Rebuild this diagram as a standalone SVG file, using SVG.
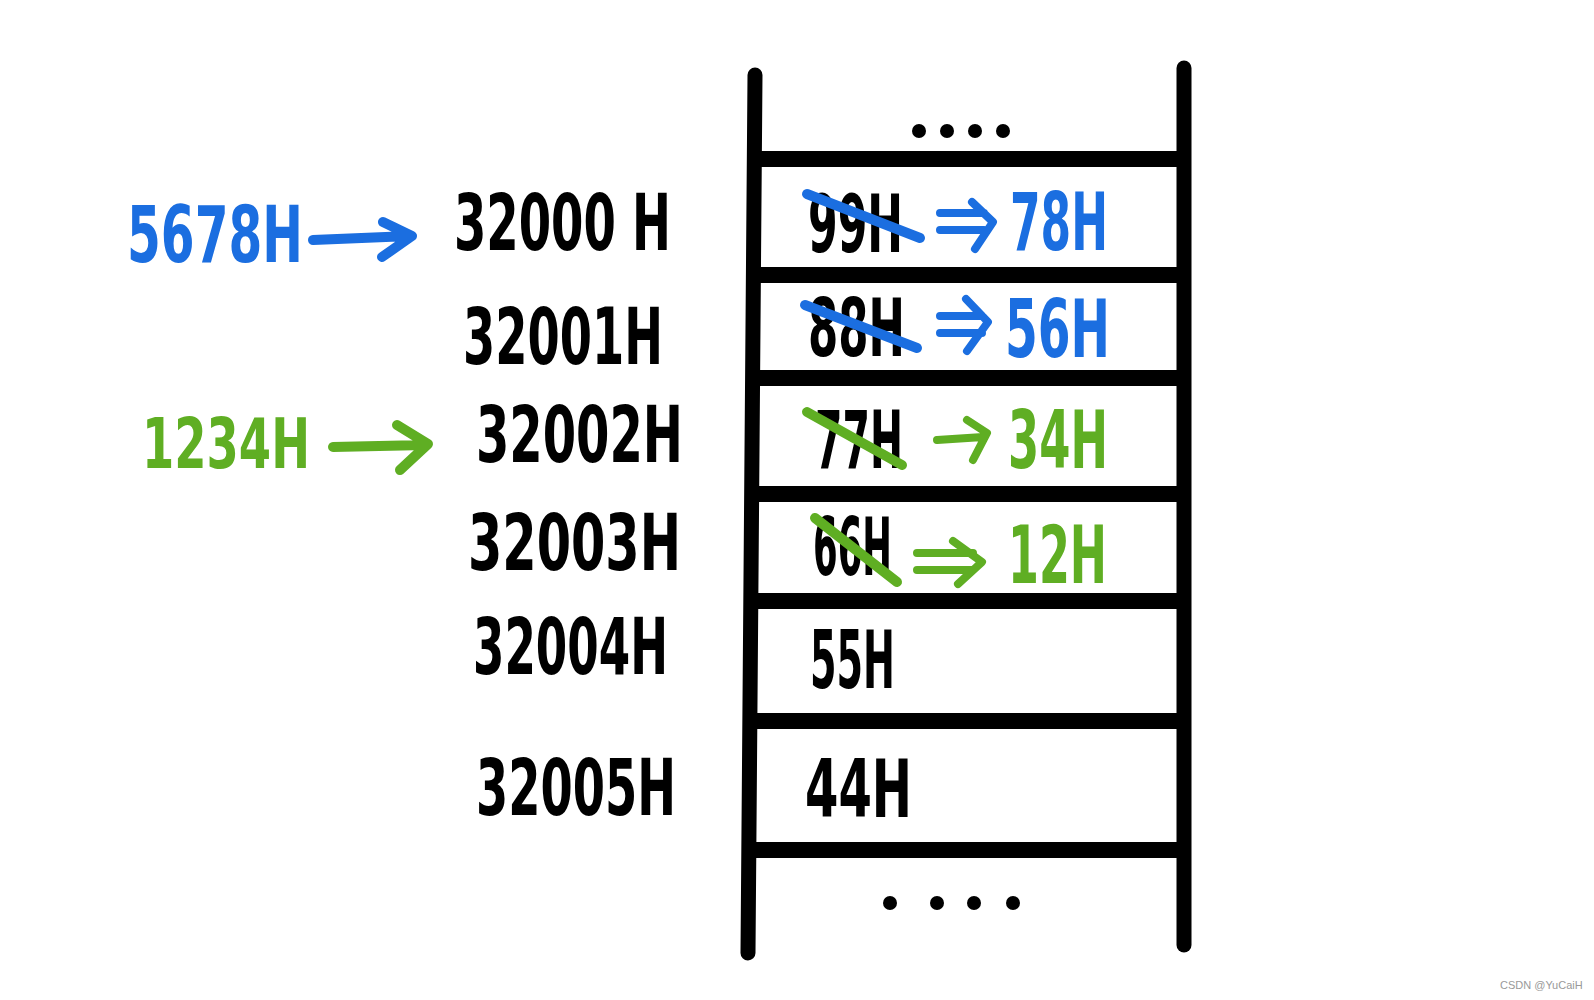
<svg xmlns="http://www.w3.org/2000/svg" width="1594" height="1000" viewBox="0 0 1594 1000">
<style>
.t{font-family:"DejaVu Sans","Liberation Sans",sans-serif;font-weight:bold;}
.cell{font-size:80px;}
.addr{font-size:78px;}
.k{fill:#000;}
.b{fill:#1b6ee0;}
.g{fill:#5fae23;}
.frame{stroke:#000;stroke-width:15;stroke-linecap:round;fill:none;}
.rung{stroke:#000;stroke-width:16;fill:none;}
.sb{stroke:#1b6ee0;stroke-width:10;stroke-linecap:round;stroke-linejoin:round;fill:none;}
.sg{stroke:#5fae23;stroke-width:10;stroke-linecap:round;stroke-linejoin:round;fill:none;}
.ab{stroke:#1b6ee0;stroke-width:8;stroke-linecap:round;stroke-linejoin:round;fill:none;}
.ag{stroke:#5fae23;stroke-width:8;stroke-linecap:round;stroke-linejoin:round;fill:none;}
.wm{font-family:"Liberation Sans",sans-serif;font-size:11px;fill:#999;}
</style>
<rect width="1594" height="1000" fill="#fff"/>
<g id="memory-frame">
<path class="frame" d="M755 75 L748 953"/>
<path class="frame" d="M1184 68 L1184 945"/>
<path class="rung" d="M752 159 H1184 M752 275 H1184 M751 378 H1184 M751 494 H1188 M750 601 H1184 M750 721 H1190 M749 850 H1184"/>
</g>
<g id="dots-top"><circle cx="919" cy="131" r="7"/><circle cx="947" cy="131" r="7"/><circle cx="975" cy="131" r="7"/><circle cx="1003" cy="131" r="7"/></g>
<g id="dots-bottom"><circle cx="890" cy="903" r="7"/><circle cx="937" cy="903" r="7"/><circle cx="974" cy="903" r="7"/><circle cx="1013" cy="903" r="7"/></g>
<g id="cell-32000H">
<text class="t cell k" x="808" y="252" textLength="95" lengthAdjust="spacingAndGlyphs">99H</text>
<path class="sb" d="M807 194 L920 238"/>
<text class="t cell b" x="1010" y="250" textLength="98" lengthAdjust="spacingAndGlyphs">78H</text>
</g>
<g id="cell-32001H">
<text class="t cell k" x="808" y="356" textLength="97" lengthAdjust="spacingAndGlyphs">88H</text>
<path class="sb" d="M805 305 L917 348"/>
<text class="t cell b" x="1005" y="357" textLength="105" lengthAdjust="spacingAndGlyphs">56H</text>
</g>
<g id="cell-32002H">
<text class="t cell k" x="815" y="468" textLength="88" lengthAdjust="spacingAndGlyphs">77H</text>
<path class="sg" d="M807 412 L902 465"/>
<text class="t cell g" x="1008" y="468" textLength="100" lengthAdjust="spacingAndGlyphs">34H</text>
</g>
<g id="cell-32003H">
<text class="t cell k" x="813" y="575" textLength="79" lengthAdjust="spacingAndGlyphs">66H</text>
<path class="sg" d="M815 518 L897 582"/>
<text class="t cell g" x="1008" y="583" textLength="99" lengthAdjust="spacingAndGlyphs">12H</text>
</g>
<g id="cell-32004H">
<text class="t cell k" x="810" y="688" textLength="85" lengthAdjust="spacingAndGlyphs">55H</text>
</g>
<g id="cell-32005H">
<text class="t cell k" x="805" y="817" textLength="107" lengthAdjust="spacingAndGlyphs">44H</text>
</g>
<g id="addresses">
<text class="t addr k" x="454" y="250" textLength="217" lengthAdjust="spacingAndGlyphs">32000 H</text>
<text class="t addr k" x="463" y="364" textLength="200" lengthAdjust="spacingAndGlyphs">32001H</text>
<text class="t addr k" x="476" y="462" textLength="207" lengthAdjust="spacingAndGlyphs">32002H</text>
<text class="t addr k" x="468" y="570" textLength="213" lengthAdjust="spacingAndGlyphs">32003H</text>
<text class="t addr k" x="473" y="674" textLength="195" lengthAdjust="spacingAndGlyphs">32004H</text>
<text class="t addr k" x="476" y="815" textLength="200" lengthAdjust="spacingAndGlyphs">32005H</text>
</g>
<g id="value-5678H">
<text class="t addr b" x="127" y="262" textLength="176" lengthAdjust="spacingAndGlyphs">5678H</text>
</g>
<g id="value-1234H">
<text class="t g" style="font-size:70px" x="142" y="468" textLength="168" lengthAdjust="spacingAndGlyphs">1234H</text>
</g>
<g id="connectors">
<path class="sb" d="M313 240 L410 236 M383 222 L412 236 L382 257"/>
<path class="sg" d="M333 447 L425 445 M397 425 L428 444 L400 470"/>
<path class="ab" d="M940 213 L984 213 M940 230 L984 230 M972 202 L993 222 L975 249"/>
<path class="ab" d="M940 316 L982 316 M940 333 L982 333 M966 299 L988 322 L967 351"/>
<path class="ag" d="M937 440 L983 437 M967 420 L987 433 L973 460"/>
<path class="ag" d="M917 553 L973 553 M917 570 L973 570 M953 541 L982 562 L958 584"/>
</g>
<text class="wm" x="1500" y="989">CSDN @YuCaiH</text>
</svg>
